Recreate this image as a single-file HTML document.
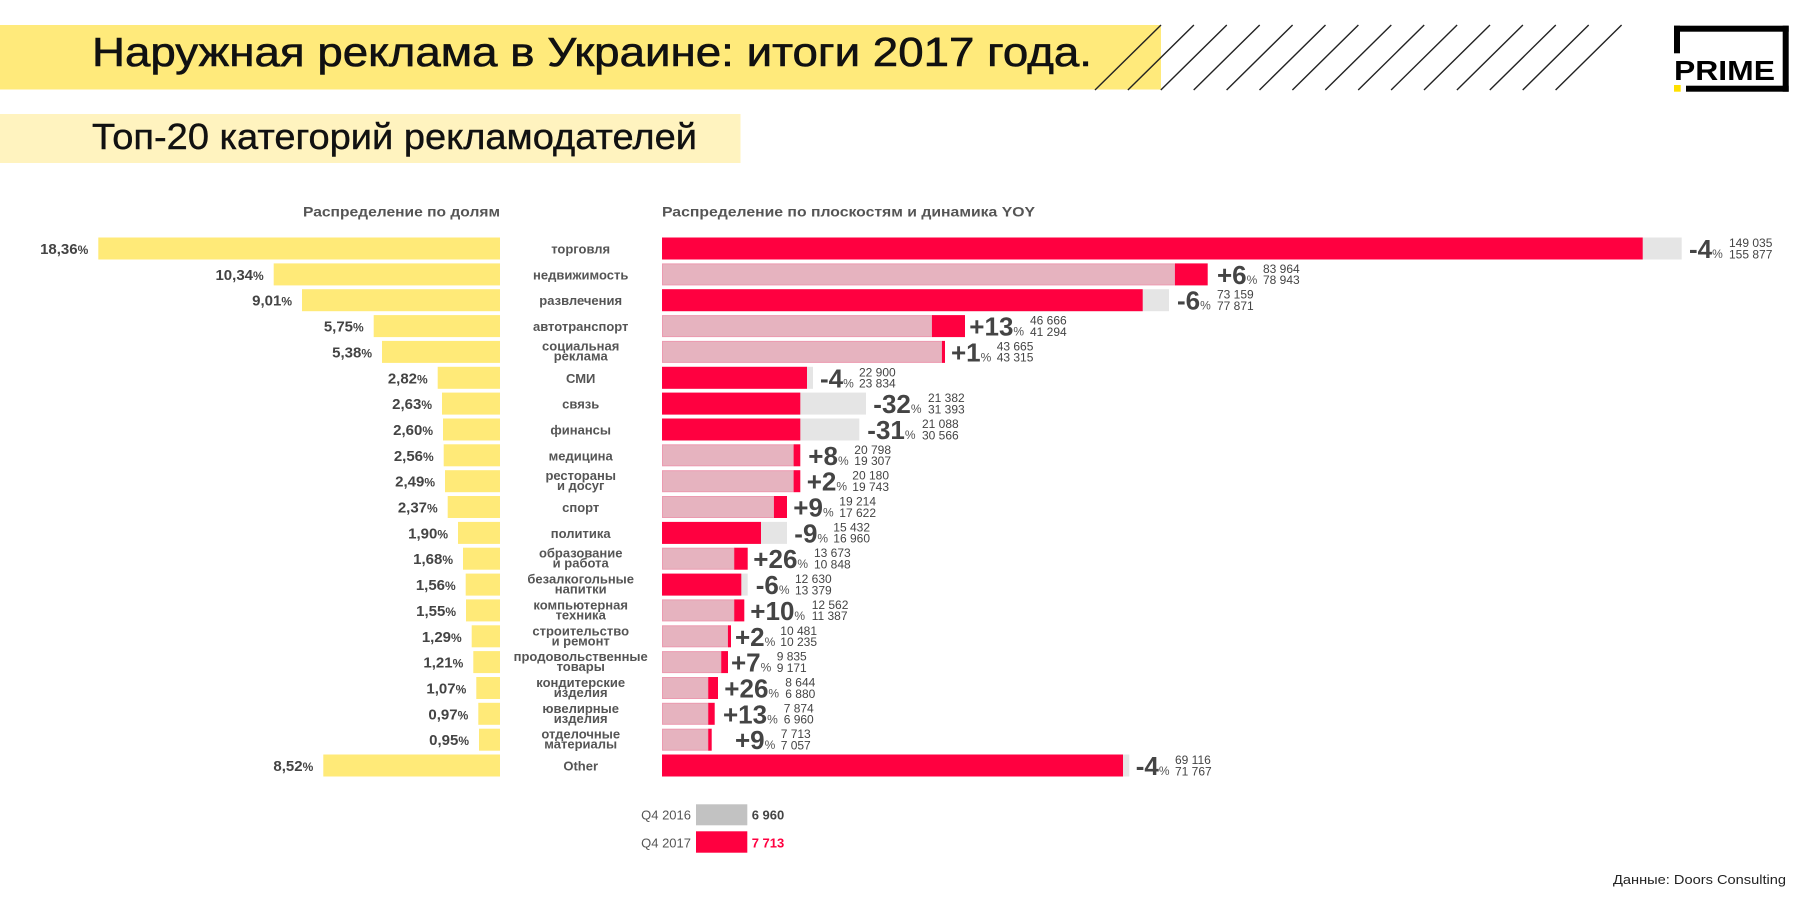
<!DOCTYPE html>
<html>
<head>
<meta charset="utf-8">
<style>
  html, body { margin:0; padding:0; background:#fff; }
  svg { display:block; }
  text { font-family: "Liberation Sans", "DejaVu Sans", sans-serif; }
  .pl { font-size:15px; font-weight:bold; fill:#444; }
  .ps { font-size:12px; font-weight:bold; fill:#444; }
  .cl { font-size:13px; font-weight:bold; fill:#555; }
  .bg { font-size:26px; font-weight:bold; fill:#444; }
  .bs { font-size:12px; font-weight:normal; fill:#555; }
  .nm { font-size:12px; fill:#444; }
  .red { fill:#FF0040; }
  .gry { fill:#E5E5E5; }
  .pnk { fill:#E6B3BF; stroke:#EC9AB0; stroke-width:1; }
  .yel { fill:#FFEA78; }
</style>
</head>
<body>
<svg width="1800" height="900" viewBox="0 0 1800 900" xmlns="http://www.w3.org/2000/svg">
  <rect x="0" y="0" width="1800" height="900" fill="#fff"/>

  <!-- Title band -->
  <rect x="0" y="25" width="1161" height="64.5" fill="#FFEA7B"/>
  <text x="92" y="66" font-size="41" fill="#111" stroke="#111" stroke-width="0.6" textLength="1000" lengthAdjust="spacingAndGlyphs">Наружная реклама в Украине: итоги 2017 года.</text>
  <g stroke="#222" stroke-width="1.4">
    <line x1="1161" y1="25" x2="1095" y2="90"/>
    <line x1="1193.9" y1="25" x2="1127.9" y2="90"/>
    <line x1="1226.8" y1="25" x2="1160.8" y2="90"/>
    <line x1="1259.7" y1="25" x2="1193.7" y2="90"/>
    <line x1="1292.6" y1="25" x2="1226.6" y2="90"/>
    <line x1="1325.5" y1="25" x2="1259.5" y2="90"/>
    <line x1="1358.4" y1="25" x2="1292.4" y2="90"/>
    <line x1="1391.3" y1="25" x2="1325.3" y2="90"/>
    <line x1="1424.2" y1="25" x2="1358.2" y2="90"/>
    <line x1="1457.1" y1="25" x2="1391.1" y2="90"/>
    <line x1="1490" y1="25" x2="1424" y2="90"/>
    <line x1="1522.9" y1="25" x2="1456.9" y2="90"/>
    <line x1="1555.8" y1="25" x2="1489.8" y2="90"/>
    <line x1="1588.7" y1="25" x2="1522.7" y2="90"/>
    <line x1="1621.6" y1="25" x2="1555.6" y2="90"/>
  </g>

  <!-- PRIME logo -->
  <rect x="1674" y="25.7" width="114.7" height="6" fill="#000"/>
  <rect x="1782.7" y="25.7" width="6" height="66" fill="#000"/>
  <rect x="1686" y="85.7" width="102.7" height="6" fill="#000"/>
  <rect x="1674" y="25.7" width="6" height="27.6" fill="#000"/>
  <rect x="1674" y="85" width="6.7" height="6.7" fill="#FFE000"/>
  <text x="1674" y="80" font-size="28" font-weight="bold" fill="#000" textLength="101" lengthAdjust="spacingAndGlyphs">PRIME</text>

  <!-- Subtitle band -->
  <rect x="0" y="114" width="740.5" height="49" fill="#FFF3BF"/>
  <text x="92" y="149" font-size="36" fill="#111" stroke="#111" stroke-width="0.4" textLength="605" lengthAdjust="spacingAndGlyphs">Топ-20 категорий рекламодателей</text>

  <!-- Headers -->
  <text x="500" y="216.5" text-anchor="end" font-size="14" font-weight="bold" fill="#555" textLength="197" lengthAdjust="spacingAndGlyphs">Распределение по долям</text>
  <text x="662" y="216.5" font-size="14" font-weight="bold" fill="#555" textLength="373" lengthAdjust="spacingAndGlyphs">Распределение по плоскостям и динамика YOY</text>

  <!-- Left bars -->
  <g class="yel">
    <rect x="98.3" y="237.5" width="401.7" height="22"/>
    <rect x="273.7" y="263.4" width="226.3" height="22"/>
    <rect x="302" y="289.2" width="198" height="22"/>
    <rect x="373.7" y="315.1" width="126.3" height="22"/>
    <rect x="382" y="340.9" width="118" height="22"/>
    <rect x="437.7" y="366.8" width="62.3" height="22"/>
    <rect x="442" y="392.6" width="58" height="22"/>
    <rect x="443" y="418.5" width="57" height="22"/>
    <rect x="443.7" y="444.3" width="56.3" height="22"/>
    <rect x="445" y="470.2" width="55" height="22"/>
    <rect x="447.7" y="496" width="52.3" height="22"/>
    <rect x="458" y="521.9" width="42" height="22"/>
    <rect x="463" y="547.7" width="37" height="22"/>
    <rect x="465.7" y="573.6" width="34.3" height="22"/>
    <rect x="466" y="599.4" width="34" height="22"/>
    <rect x="471.7" y="625.3" width="28.3" height="22"/>
    <rect x="473.3" y="651.1" width="26.7" height="22"/>
    <rect x="476.3" y="677" width="23.7" height="22"/>
    <rect x="478.3" y="702.8" width="21.7" height="22"/>
    <rect x="479" y="728.7" width="21" height="22"/>
    <rect x="323.3" y="754.5" width="176.7" height="22"/>
  </g>

  <!-- Left percent labels -->
  <text class="pl" x="88.3" y="254" text-anchor="end">18,36<tspan class="ps">%</tspan></text>
  <text class="pl" x="263.7" y="279.9" text-anchor="end">10,34<tspan class="ps">%</tspan></text>
  <text class="pl" x="292" y="305.7" text-anchor="end">9,01<tspan class="ps">%</tspan></text>
  <text class="pl" x="363.7" y="331.6" text-anchor="end">5,75<tspan class="ps">%</tspan></text>
  <text class="pl" x="372" y="357.4" text-anchor="end">5,38<tspan class="ps">%</tspan></text>
  <text class="pl" x="427.7" y="383.3" text-anchor="end">2,82<tspan class="ps">%</tspan></text>
  <text class="pl" x="432" y="409.1" text-anchor="end">2,63<tspan class="ps">%</tspan></text>
  <text class="pl" x="433" y="435" text-anchor="end">2,60<tspan class="ps">%</tspan></text>
  <text class="pl" x="433.7" y="460.8" text-anchor="end">2,56<tspan class="ps">%</tspan></text>
  <text class="pl" x="435" y="486.7" text-anchor="end">2,49<tspan class="ps">%</tspan></text>
  <text class="pl" x="437.7" y="512.5" text-anchor="end">2,37<tspan class="ps">%</tspan></text>
  <text class="pl" x="448" y="538.4" text-anchor="end">1,90<tspan class="ps">%</tspan></text>
  <text class="pl" x="453" y="564.2" text-anchor="end">1,68<tspan class="ps">%</tspan></text>
  <text class="pl" x="455.7" y="590.1" text-anchor="end">1,56<tspan class="ps">%</tspan></text>
  <text class="pl" x="456" y="615.9" text-anchor="end">1,55<tspan class="ps">%</tspan></text>
  <text class="pl" x="461.7" y="641.8" text-anchor="end">1,29<tspan class="ps">%</tspan></text>
  <text class="pl" x="463.3" y="667.6" text-anchor="end">1,21<tspan class="ps">%</tspan></text>
  <text class="pl" x="466.3" y="693.5" text-anchor="end">1,07<tspan class="ps">%</tspan></text>
  <text class="pl" x="468.3" y="719.3" text-anchor="end">0,97<tspan class="ps">%</tspan></text>
  <text class="pl" x="469" y="745.2" text-anchor="end">0,95<tspan class="ps">%</tspan></text>
  <text class="pl" x="313.3" y="771" text-anchor="end">8,52<tspan class="ps">%</tspan></text>

  <!-- Center labels -->
  <g class="cl" text-anchor="middle">
    <text x="580.7" y="253.5">торговля</text>
    <text x="580.7" y="279.4">недвижимость</text>
    <text x="580.7" y="305.2">развлечения</text>
    <text x="580.7" y="331.1">автотранспорт</text>
    <text x="580.7" y="350.4">социальная</text>
    <text x="580.7" y="360.4">реклама</text>
    <text x="580.7" y="382.8">СМИ</text>
    <text x="580.7" y="408.6">связь</text>
    <text x="580.7" y="434.5">финансы</text>
    <text x="580.7" y="460.3">медицина</text>
    <text x="580.7" y="480.2">рестораны</text>
    <text x="580.7" y="490.2">и досуг</text>
    <text x="580.7" y="512">спорт</text>
    <text x="580.7" y="537.9">политика</text>
    <text x="580.7" y="557.7">образование</text>
    <text x="580.7" y="567.7">и работа</text>
    <text x="580.7" y="583.6">безалкогольные</text>
    <text x="580.7" y="593.6">напитки</text>
    <text x="580.7" y="609.4">компьютерная</text>
    <text x="580.7" y="619.4">техника</text>
    <text x="580.7" y="635.3">строительство</text>
    <text x="580.7" y="645.3">и ремонт</text>
    <text x="580.7" y="661.1">продовольственные</text>
    <text x="580.7" y="671.1">товары</text>
    <text x="580.7" y="687">кондитерские</text>
    <text x="580.7" y="697">изделия</text>
    <text x="580.7" y="712.8">ювелирные</text>
    <text x="580.7" y="722.8">изделия</text>
    <text x="580.7" y="738.7">отделочные</text>
    <text x="580.7" y="748.7">материалы</text>
    <text x="580.7" y="770.5">Other</text>
  </g>

  <!-- Right bars -->
  <rect class="gry" x="662" y="237.5" width="1019.7" height="22"/>
  <rect class="red" x="662" y="237.5" width="980.7" height="22"/>
  <rect class="pnk" x="662.5" y="263.9" width="512.5" height="21"/>
  <rect class="red" x="1175" y="263.4" width="32.7" height="22"/>
  <rect class="gry" x="662" y="289.2" width="507" height="22"/>
  <rect class="red" x="662" y="289.2" width="480.7" height="22"/>
  <rect class="pnk" x="662.5" y="315.6" width="269.5" height="21"/>
  <rect class="red" x="932" y="315.1" width="33" height="22"/>
  <rect class="pnk" x="662.5" y="341.4" width="279.5" height="21"/>
  <rect class="red" x="942" y="340.9" width="3" height="22"/>
  <rect class="gry" x="662" y="366.8" width="151" height="22"/>
  <rect class="red" x="662" y="366.8" width="145" height="22"/>
  <rect class="gry" x="662" y="392.6" width="204" height="22"/>
  <rect class="red" x="662" y="392.6" width="138.3" height="22"/>
  <rect class="gry" x="662" y="418.5" width="197.3" height="22"/>
  <rect class="red" x="662" y="418.5" width="138.3" height="22"/>
  <rect class="pnk" x="662.5" y="444.8" width="131.2" height="21"/>
  <rect class="red" x="793.7" y="444.3" width="6.6" height="22"/>
  <rect class="pnk" x="662.5" y="470.7" width="131.2" height="21"/>
  <rect class="red" x="793.7" y="470.2" width="6.6" height="22"/>
  <rect class="pnk" x="662.5" y="496.5" width="111.5" height="21"/>
  <rect class="red" x="774" y="496" width="13" height="22"/>
  <rect class="gry" x="662" y="521.9" width="125" height="22"/>
  <rect class="red" x="662" y="521.9" width="99" height="22"/>
  <rect class="pnk" x="662.5" y="548.2" width="71.8" height="21"/>
  <rect class="red" x="734.3" y="547.7" width="13.4" height="22"/>
  <rect class="gry" x="662" y="573.6" width="85.7" height="22"/>
  <rect class="red" x="662" y="573.6" width="79.3" height="22"/>
  <rect class="pnk" x="662.5" y="599.9" width="71.8" height="21"/>
  <rect class="red" x="734.3" y="599.4" width="10" height="22"/>
  <rect class="pnk" x="662.5" y="625.8" width="65.5" height="21"/>
  <rect class="red" x="728" y="625.3" width="3" height="22"/>
  <rect class="pnk" x="662.5" y="651.6" width="58.8" height="21"/>
  <rect class="red" x="721.3" y="651.1" width="6.7" height="22"/>
  <rect class="pnk" x="662.5" y="677.5" width="45.8" height="21"/>
  <rect class="red" x="708.3" y="677" width="9.7" height="22"/>
  <rect class="pnk" x="662.5" y="703.3" width="45.8" height="21"/>
  <rect class="red" x="708.3" y="702.8" width="6.4" height="22"/>
  <rect class="pnk" x="662.5" y="729.2" width="45.8" height="21"/>
  <rect class="red" x="708.3" y="728.7" width="3.4" height="22"/>
  <rect class="gry" x="662" y="754.5" width="467.3" height="22"/>
  <rect class="red" x="662" y="754.5" width="461" height="22"/>

  <!-- Right labels: big % -->
  <text class="bg" x="1689" y="258">-4<tspan class="bs">%</tspan></text>
  <text class="bg" x="1217" y="283.9">+6<tspan class="bs">%</tspan></text>
  <text class="bg" x="1177" y="309.7">-6<tspan class="bs">%</tspan></text>
  <text class="bg" x="969.3" y="335.6">+13<tspan class="bs">%</tspan></text>
  <text class="bg" x="951" y="361.4">+1<tspan class="bs">%</tspan></text>
  <text class="bg" x="820" y="387.3">-4<tspan class="bs">%</tspan></text>
  <text class="bg" x="873.3" y="413.1">-32<tspan class="bs">%</tspan></text>
  <text class="bg" x="867.3" y="439">-31<tspan class="bs">%</tspan></text>
  <text class="bg" x="808.3" y="464.8">+8<tspan class="bs">%</tspan></text>
  <text class="bg" x="806.7" y="490.7">+2<tspan class="bs">%</tspan></text>
  <text class="bg" x="793.3" y="516.5">+9<tspan class="bs">%</tspan></text>
  <text class="bg" x="794.3" y="542.4">-9<tspan class="bs">%</tspan></text>
  <text class="bg" x="753.3" y="568.2">+26<tspan class="bs">%</tspan></text>
  <text class="bg" x="755.7" y="594.1">-6<tspan class="bs">%</tspan></text>
  <text class="bg" x="750.3" y="619.9">+10<tspan class="bs">%</tspan></text>
  <text class="bg" x="735" y="645.8">+2<tspan class="bs">%</tspan></text>
  <text class="bg" x="731" y="671.6">+7<tspan class="bs">%</tspan></text>
  <text class="bg" x="724.3" y="697.5">+26<tspan class="bs">%</tspan></text>
  <text class="bg" x="723" y="723.3">+13<tspan class="bs">%</tspan></text>
  <text class="bg" x="735" y="749.2">+9<tspan class="bs">%</tspan></text>
  <text class="bg" x="1135.7" y="775">-4<tspan class="bs">%</tspan></text>

  <!-- Right labels: numbers -->
  <g class="nm">
    <text x="1729" y="247">149 035</text><text x="1729" y="258.3">155 877</text>
    <text x="1263" y="272.9">83 964</text><text x="1263" y="284.2">78 943</text>
    <text x="1217" y="298.7">73 159</text><text x="1217" y="310">77 871</text>
    <text x="1030" y="324.6">46 666</text><text x="1030" y="335.9">41 294</text>
    <text x="996.7" y="350.4">43 665</text><text x="996.7" y="361.7">43 315</text>
    <text x="859" y="376.3">22 900</text><text x="859" y="387.6">23 834</text>
    <text x="928" y="402.1">21 382</text><text x="928" y="413.4">31 393</text>
    <text x="922" y="428">21 088</text><text x="922" y="439.3">30 566</text>
    <text x="854.3" y="453.8">20 798</text><text x="854.3" y="465.1">19 307</text>
    <text x="852.3" y="479.7">20 180</text><text x="852.3" y="491">19 743</text>
    <text x="839.3" y="505.5">19 214</text><text x="839.3" y="516.8">17 622</text>
    <text x="833.3" y="531.4">15 432</text><text x="833.3" y="542.7">16 960</text>
    <text x="814" y="557.2">13 673</text><text x="814" y="568.5">10 848</text>
    <text x="795" y="583.1">12 630</text><text x="795" y="594.4">13 379</text>
    <text x="811.7" y="608.9">12 562</text><text x="811.7" y="620.2">11 387</text>
    <text x="780.3" y="634.8">10 481</text><text x="780.3" y="646.1">10 235</text>
    <text x="776.7" y="660.6">9 835</text><text x="776.7" y="671.9">9 171</text>
    <text x="785.3" y="686.5">8 644</text><text x="785.3" y="697.8">6 880</text>
    <text x="783.7" y="712.3">7 874</text><text x="783.7" y="723.6">6 960</text>
    <text x="780.7" y="738.2">7 713</text><text x="780.7" y="749.5">7 057</text>
    <text x="1175" y="764">69 116</text><text x="1175" y="775.3">71 767</text>
  </g>

  <!-- Legend -->
  <text x="691" y="819.3" text-anchor="end" font-size="13" fill="#555">Q4 2016</text>
  <rect x="696" y="804.3" width="51.3" height="21" fill="#C2C2C2"/>
  <text x="751.7" y="819.3" font-size="13" font-weight="bold" fill="#444">6 960</text>
  <text x="691" y="847.3" text-anchor="end" font-size="13" fill="#555">Q4 2017</text>
  <rect x="696" y="831.3" width="51.3" height="21.4" fill="#FF0040"/>
  <text x="751.7" y="847.3" font-size="13" font-weight="bold" fill="#FF0040">7 713</text>

  <!-- Source -->
  <text x="1786" y="884" text-anchor="end" font-size="13" fill="#222" textLength="173" lengthAdjust="spacingAndGlyphs">Данные: Doors Consulting</text>
</svg>
</body>
</html>
